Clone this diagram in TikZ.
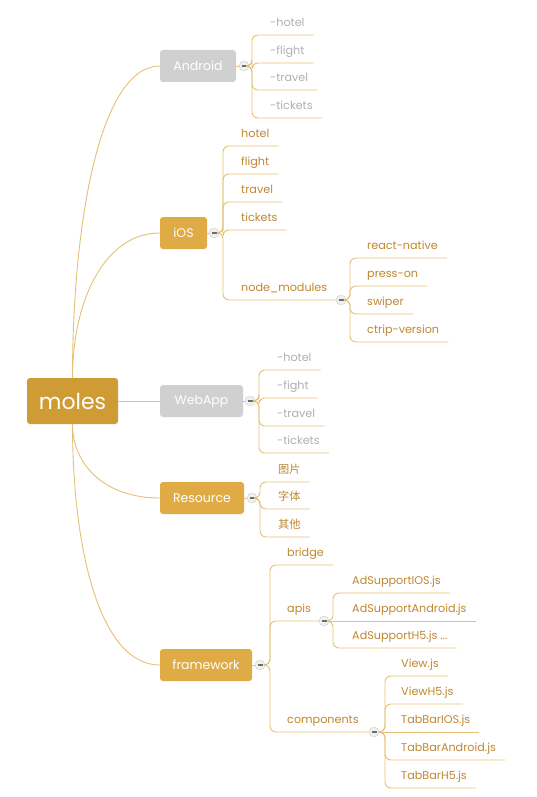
\documentclass[tikz,border=0pt]{standalone}
\usepackage{fontspec}
\setmainfont{Poppins}
\newfontfamily\cjk{Noto Sans CJK SC}
\definecolor{rootgold}{RGB}{207,155,52}
\definecolor{topicgold}{RGB}{224,171,68}
\definecolor{topicgray}{RGB}{208,208,208}
\definecolor{linegold}{RGB}{229,192,116}
\definecolor{leafgold}{RGB}{192,134,48}
\definecolor{leafgray}{RGB}{175,175,175}

\begin{document}
\begin{tikzpicture}[x=1pt, y=-1pt,
    topic/.style={rectangle, rounded corners=3pt, minimum height=32pt, inner xsep=0pt, text=white, fill=topicgold, font=\fontsize{12.5}{14}\selectfont},
    grey/.style={topic, fill=topicgray},
    leaf/.style={anchor=south west, inner xsep=9pt, inner ysep=0pt, text depth=8pt, text=leafgold, font=\fontsize{11.2}{13}\selectfont},
    gleaf/.style={leaf, text=leafgray},
    ctl/.style={circle, draw=gray!40, fill=gray!12, minimum size=10pt, inner sep=0pt,
        path picture={\draw[gray!85!black, line width=1.3pt] ([xshift=-2.5pt]path picture bounding box.center) -- ([xshift=2.5pt]path picture bounding box.center);}},
    branch/.style={draw=linegold, line width=0.9pt, rounded corners=6pt}]
    \useasboundingbox (0,0) rectangle (537,797);

    % main topics
    \node[topic, fill=rootgold, minimum width=91pt, minimum height=46pt, font=\fontsize{22}{24}\selectfont] (moles) at (72.5,401) {moles};
    \node[grey, minimum width=76pt] (android) at (198,66) {Android};
    \node[topic, minimum width=47pt] (ios) at (183.5,233) {iOS};
    \node[grey, minimum width=83pt] (webapp) at (201.5,401) {WebApp};
    \node[topic, minimum width=84pt] (res) at (202,498) {Resource};
    \node[topic, minimum width=92pt] (fw) at (206,665) {framework};

    \draw[branch] (moles.north) .. controls (72.5,222) and (100,66) .. (android.west);
    \draw[branch] (moles.north) .. controls (72.5,300) and (105,233) .. (ios.west);
    \draw[branch] (moles.east) -- (webapp.west);
    \draw[branch] (moles.south) .. controls (72.5,465) and (105,498) .. (res.west);
    \draw[branch] (moles.south) .. controls (72.5,550) and (100,665) .. (fw.west);

    % Android
    \node[ctl] (andC) at (244,66) {};
    \coordinate (andJ) at (252,66);
    \draw[branch] (android) -- (andC);
    \node[gleaf] (ahotel) at (261,35) {-hotel};
    \node[gleaf] (aflight) at (261,63) {-flight};
    \node[gleaf] (atravel) at (261,90) {-travel};
    \node[gleaf] (atickets) at (261,118) {-tickets};
    \draw[branch] (andC) -| (andJ |- ahotel.south) -- (ahotel.south east);
    \draw[branch] (andC) -| (andJ |- aflight.south) -- (aflight.south east);
    \draw[branch] (andC) -| (andJ |- atravel.south) -- (atravel.south east);
    \draw[branch] (andC) -| (andJ |- atickets.south) -- (atickets.south east);

    % iOS
    \node[ctl] (iosC) at (214,233) {};
    \coordinate (iosJ) at (223,233);
    \draw[branch] (ios) -- (iosC);
    \node[leaf] (ihotel) at (232,146) {hotel};
    \node[leaf] (iflight) at (232,174) {flight};
    \node[leaf] (itravel) at (232,202) {travel};
    \node[leaf] (itickets) at (232,230) {tickets};
    \node[leaf] (nm) at (232,300) {node\_modules};
    \node[ctl] (nmC) at (341,300) {};
    \draw[branch] (iosC) -| (iosJ |- ihotel.south) -- (ihotel.south east);
    \draw[branch] (iosC) -| (iosJ |- iflight.south) -- (iflight.south east);
    \draw[branch] (iosC) -| (iosJ |- itravel.south) -- (itravel.south east);
    \draw[branch] (iosC) -| (iosJ |- itickets.south) -- (itickets.south east);
    \draw[branch] (iosC) -| (iosJ |- nm.south) -- (nmC);

    \coordinate (nmJ) at (350,300);
    \node[leaf] (rn) at (358,258) {react-native};
    \node[leaf] (presson) at (358,286) {press-on};
    \node[leaf] (swiper) at (358,314) {swiper};
    \node[leaf] (ctrip) at (358,342) {ctrip-version};
    \draw[branch] (nmC) -| (nmJ |- rn.south) -- (rn.south east);
    \draw[branch] (nmC) -| (nmJ |- presson.south) -- (presson.south east);
    \draw[branch] (nmC) -| (nmJ |- swiper.south) -- (swiper.south east);
    \draw[branch] (nmC) -| (nmJ |- ctrip.south) -- (ctrip.south east);

    % WebApp
    \node[ctl] (webC) at (250,401) {};
    \coordinate (webJ) at (259,401);
    \draw[branch] (webapp) -- (webC);
    \node[gleaf] (whotel) at (268,370) {-hotel};
    \node[gleaf] (wfight) at (268,398) {-fight};
    \node[gleaf] (wtravel) at (268,426) {-travel};
    \node[gleaf] (wtickets) at (268,453) {-tickets};
    \draw[branch] (webC) -| (webJ |- whotel.south) -- (whotel.south east);
    \draw[branch] (webC) -| (webJ |- wfight.south) -- (wfight.south east);
    \draw[branch] (webC) -| (webJ |- wtravel.south) -- (wtravel.south east);
    \draw[branch] (webC) -| (webJ |- wtickets.south) -- (wtickets.south east);

    % Resource
    \node[ctl] (resC) at (252,498) {};
    \coordinate (resJ) at (260,498);
    \draw[branch] (res) -- (resC);
    \node[leaf] (pic) at (269,482) {\cjk 图片};
    \node[leaf] (fnt) at (269,509) {\cjk 字体};
    \node[leaf] (other) at (269,537) {\cjk 其他};
    \draw[branch] (resC) -| (resJ |- pic.south) -- (pic.south east);
    \draw[branch] (resC) -| (resJ |- fnt.south) -- (fnt.south east);
    \draw[branch] (resC) -| (resJ |- other.south) -- (other.south east);

    % framework
    \node[ctl] (fwC) at (260,665) {};
    \coordinate (fwJ) at (270,665);
    \draw[branch] (fw) -- (fwC);
    \node[leaf] (bridge) at (278,565) {bridge};
    \node[leaf] (apis) at (278,621) {apis};
    \node[leaf] (comp) at (278,732) {components};
    \node[ctl] (apiC) at (324,621) {};
    \node[ctl] (cmpC) at (374,732) {};
    \draw[branch] (fwC) -| (fwJ |- bridge.south) -- (bridge.south east);
    \draw[branch] (fwC) -| (fwJ |- apis.south) -- (apiC);
    \draw[branch] (fwC) -| (fwJ |- comp.south) -- (cmpC);

    \coordinate (apiJ) at (333,621);
    \node[leaf] (adios) at (343,593) {AdSupportIOS.js};
    \node[leaf] (adand) at (343,621) {AdSupportAndroid.js};
    \node[leaf] (adh5) at (343,648) {AdSupportH5.js ...};
    \draw[branch] (apiC) -| (apiJ |- adios.south) -- (adios.south east);
    \draw[branch] (apiC) -- (adand.south east);
    \draw[branch] (apiC) -| (apiJ |- adh5.south) -- (adh5.south east);

    \coordinate (cmpJ) at (385,732);
    \node[leaf] (view) at (392,676) {View.js};
    \node[leaf] (viewh5) at (392,704) {ViewH5.js};
    \node[leaf] (tbios) at (392,732) {TabBarIOS.js};
    \node[leaf] (tband) at (392,760) {TabBarAndroid.js};
    \node[leaf] (tbh5) at (392,788) {TabBarH5.js};
    \draw[branch] (cmpC) -| (cmpJ |- view.south) -- (view.south east);
    \draw[branch] (cmpC) -| (cmpJ |- viewh5.south) -- (viewh5.south east);
    \draw[branch] (cmpC) -- (tbios.south east);
    \draw[branch] (cmpC) -| (cmpJ |- tband.south) -- (tband.south east);
    \draw[branch] (cmpC) -| (cmpJ |- tbh5.south) -- (tbh5.south east);
\end{tikzpicture}
\end{document}
